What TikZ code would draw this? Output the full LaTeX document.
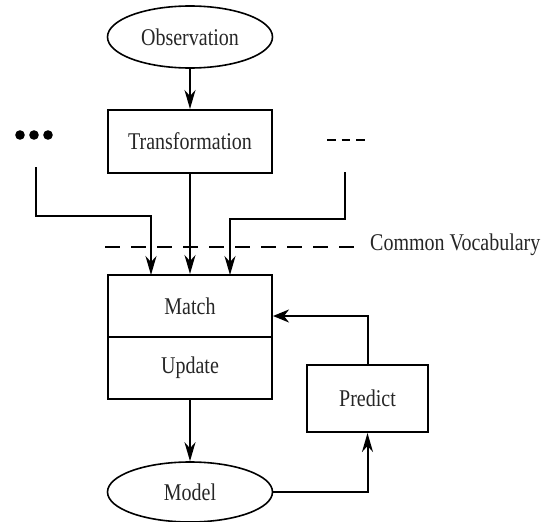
\documentclass[tikz,border=0pt]{standalone}
\usepackage{fontspec}
\setmainfont{Liberation Serif}
\usetikzlibrary{arrows.meta,shapes.geometric}
\begin{document}
\begin{tikzpicture}[x=1pt,y=-1pt,
  lbl/.style={font=\fontsize{20}{22}\selectfont, text=black!85},
  boxnode/.style={draw, line width=2pt, rectangle, minimum width=164pt, inner sep=0pt, lbl},
  ovalnode/.style={draw, line width=1.6pt, ellipse, inner sep=0pt, lbl},
  conn/.style={line width=2pt, -{Stealth[length=19pt,width=11pt,inset=6pt]}},
  hconn/.style={line width=2pt, -{Stealth[length=16pt,width=13pt,inset=5pt]}}
]
\useasboundingbox (0,0) rectangle (549,522);
% nodes
\node[ovalnode, minimum width=165pt, minimum height=62pt] (obs) at (190,37) {\scalebox{1}[1.2]{Observation}};
\node[boxnode, minimum height=63pt] (trans) at (190,141.5) {\scalebox{1}[1.2]{Transformation}};
\node[boxnode, minimum height=62pt] (match) at (190,306) {\scalebox{1}[1.2]{Match}};
\node[boxnode, minimum height=62pt] (update) at (190,368) {\scalebox{1}[1.2]{Update}};
\node[boxnode, minimum width=121pt, minimum height=67pt] (pred) at (367.5,398.5) {\scalebox{1}[1.2]{Predict}};
\node[ovalnode, minimum width=165pt, minimum height=60pt] (model) at (190,492) {\scalebox{1}[1.2]{Model}};
\node[lbl, anchor=west, inner sep=0pt] (vocab) at (370,245) {\scalebox{1}[1.2]{Common Vocabulary}};
% ellipsis marks
\foreach \xx in {20,34,48} \fill (\xx,135) circle (4.8pt);
\coordinate (rdash1) at (327,140);
\coordinate (rdash2) at (365,140);
\draw[line width=2.5pt, dash pattern=on 8.5pt off 6pt] (rdash1) -- (rdash2);
% dashed vocabulary line
\coordinate (vl) at (105,247);
\coordinate (vr) at (362,247);
\draw[line width=2.2pt, dash pattern=on 15pt off 11pt] (vl) -- (vr);
% connectors
\draw[conn] (obs.south) -- (trans.north);
\draw[conn] (trans.south) -- (match.north);
\coordinate (ls) at (36,167);
\coordinate (rs) at (345,172);
\draw[conn] (ls) |- (151,216) -- (151,275);
\draw[conn] (rs) |- (230,219) -- (230,275);
\draw[conn] (update.south) -- (model.north);
\draw[conn] (model.east) -| (pred.south);
\draw[hconn] (pred.north) |- (match.east |- 0,316);
\end{tikzpicture}
\end{document}
